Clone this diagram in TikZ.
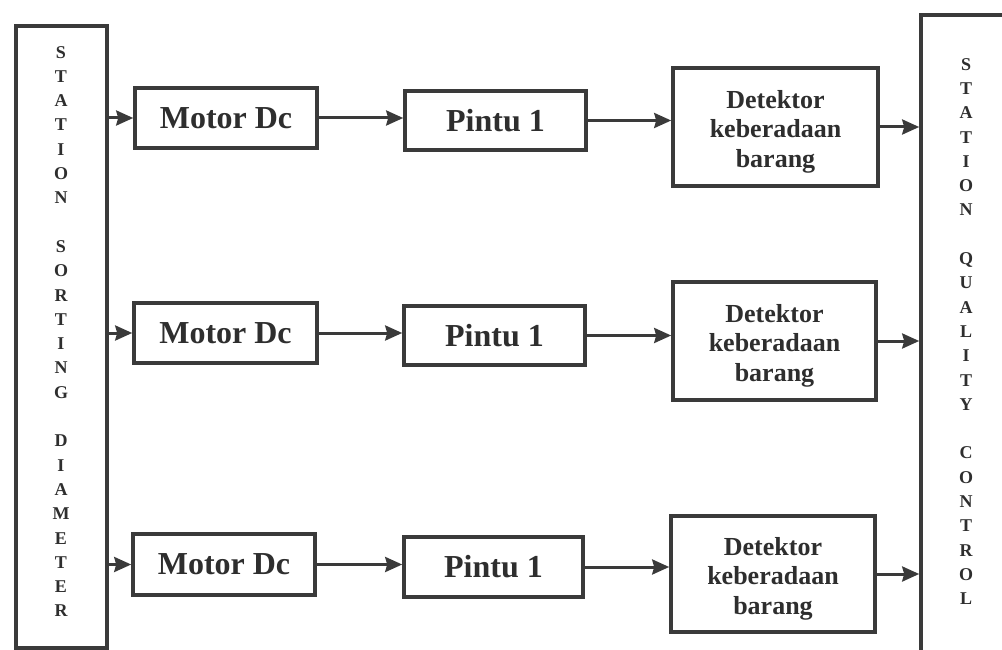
\documentclass[tikz,border=0pt]{standalone}
\usepackage{fontspec}
\setmainfont{Liberation Serif}
\usetikzlibrary{arrows.meta}
\definecolor{ink}{HTML}{3A3A3A}
\definecolor{txt}{HTML}{2E2E2E}
\tikzset{
  blockbox/.style={draw=ink, line width=3.6pt, inner sep=0pt, fill=white, text=txt},
  smalltxt/.style={font=\fontsize{32}{38}\selectfont\bfseries},
  dettxt/.style={font=\fontsize{26}{29.5}\selectfont\bfseries, align=center},
  stationbox/.style={draw=ink, line width=3.6pt, inner sep=0pt},
  vtext/.style={text=txt, align=center, inner sep=0pt, font=\fontsize{18}{24.3}\selectfont\bfseries},
  conn/.style={draw=ink, line width=3pt, -{Stealth[length=17pt,width=15pt,inset=2pt]}}
}
\begin{document}
\begin{tikzpicture}[x=1pt,y=-1pt]
\useasboundingbox (0,0) rectangle (1002,650);
\clip (0,0) rectangle (1002,650);
% station boxes
\node[stationbox, minimum width=91pt, minimum height=622pt] (L) at (61.5,337) {};
\node[stationbox, minimum width=100pt, minimum height=660pt] (R) at (971,345) {};
\node[vtext] (Lt) at (61,331.5) {S\\T\\A\\T\\I\\O\\N\\[24.3pt]S\\O\\R\\T\\I\\N\\G\\[24.3pt]D\\I\\A\\M\\E\\T\\E\\R};
\node[vtext] (Rt) at (966,331.5) {S\\T\\A\\T\\I\\O\\N\\[24.3pt]Q\\U\\A\\L\\I\\T\\Y\\[24.3pt]C\\O\\N\\T\\R\\O\\L};
% row 1
\node[blockbox, smalltxt, minimum width=182pt, minimum height=60pt] (M1) at (226,118) {Motor Dc};
\node[blockbox, smalltxt, minimum width=181pt, minimum height=59pt] (P1) at (495.5,120.5) {Pintu 1};
\node[blockbox, dettxt, minimum width=205pt, minimum height=118pt] (D1) at (775.5,127) {\rule{0pt}{27pt}Detektor\\keberadaan\\barang};
% row 2
\node[blockbox, smalltxt, minimum width=183pt, minimum height=60pt] (M2) at (225.5,333) {Motor Dc};
\node[blockbox, smalltxt, minimum width=181pt, minimum height=59pt] (P2) at (494.5,335.5) {Pintu 1};
\node[blockbox, dettxt, minimum width=203pt, minimum height=118pt] (D2) at (774.5,341) {\rule{0pt}{27pt}Detektor\\keberadaan\\barang};
% row 3
\node[blockbox, smalltxt, minimum width=182pt, minimum height=61pt] (M3) at (224,564.5) {Motor Dc};
\node[blockbox, smalltxt, minimum width=179pt, minimum height=60pt] (P3) at (493.5,567) {Pintu 1};
\node[blockbox, dettxt, minimum width=204pt, minimum height=116pt] (D3) at (773,574) {\rule{0pt}{27pt}Detektor\\keberadaan\\barang};
% connectors
\foreach \i in {1,2,3}{
  \draw[conn] (L.east |- M\i.west) -- (M\i.west);
  \draw[conn] (M\i.east) -- (M\i.east -| P\i.west);
  \draw[conn] (P\i.east) -- (P\i.east -| D\i.west);
  \draw[conn] (D\i.east) -- (D\i.east -| R.west);
}
\end{tikzpicture}
\end{document}
